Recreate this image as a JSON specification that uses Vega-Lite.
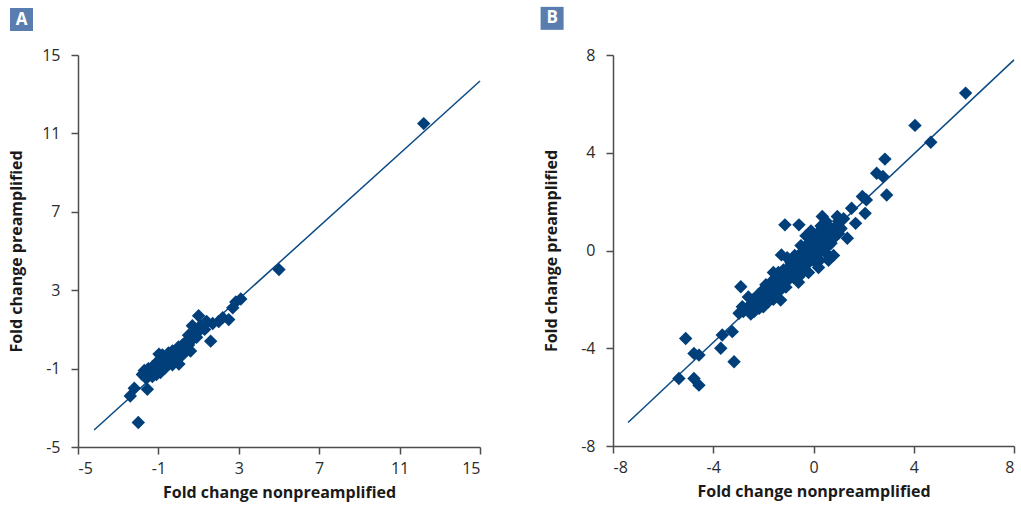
{
  "$schema": "https://vega.github.io/schema/vega-lite/v6.json",
  "background": "white",
  "padding": {"left": 8, "top": 6, "right": 0, "bottom": 8},
  "spacing": 57,
  "config": {
    "view": {"stroke": null},
    "font": "Open Sans",
    "axis": {
      "grid": false,
      "domainColor": "#4d4d4d",
      "domainWidth": 1.5,
      "tickColor": "#4d4d4d",
      "tickWidth": 1.5,
      "tickSize": 7,
      "labelFont": "Open Sans",
      "labelFontSize": 16,
      "labelColor": "#2b2b2b",
      "labelExpr": "replace(datum.label, '\u2212', '-')",
      "titleFont": "Open Sans",
      "titleFontSize": 16,
      "titleFontWeight": "bold",
      "titleColor": "#1a1a1a"
    },
    "axisY": {"minExtent": 40, "maxExtent": 40, "titlePadding": 14, "labelPadding": 11},
    "axisX": {"labelPadding": 6, "titlePadding": 8}
  },
  "datasets": {
    "a": [
      {"x": -2.0, "y": -3.75}, {"x": -2.2, "y": -2.0}, {"x": -2.4, "y": -2.4}, {"x": -1.55, "y": -2.05},
      {"x": -1.8, "y": -1.3}, {"x": -1.7, "y": -1.1}, {"x": -1.6, "y": -1.5}, {"x": -1.5, "y": -1.0},
      {"x": -1.4, "y": -1.3}, {"x": -1.3, "y": -0.9}, {"x": -1.3, "y": -1.4}, {"x": -1.2, "y": -1.1},
      {"x": -1.1, "y": -0.8}, {"x": -1.1, "y": -1.3}, {"x": -1.0, "y": -0.6}, {"x": -1.0, "y": -1.0},
      {"x": -0.9, "y": -1.2}, {"x": -0.8, "y": -0.7}, {"x": -0.8, "y": -0.3}, {"x": -0.7, "y": -1.0},
      {"x": -0.6, "y": -0.5}, {"x": -0.6, "y": -0.9}, {"x": -0.5, "y": -0.2}, {"x": -0.5, "y": -0.7},
      {"x": -0.4, "y": -0.4}, {"x": -0.3, "y": -0.8}, {"x": -0.3, "y": -0.1}, {"x": -0.2, "y": -0.5},
      {"x": -0.1, "y": -0.2}, {"x": 0.0, "y": -0.4}, {"x": 0.0, "y": 0.1}, {"x": 0.1, "y": -0.1},
      {"x": 0.2, "y": 0.2}, {"x": 0.2, "y": -0.3}, {"x": 0.3, "y": 0.0}, {"x": 0.4, "y": 0.4},
      {"x": 0.5, "y": 0.2}, {"x": 0.5, "y": 0.7}, {"x": 0.6, "y": -0.1}, {"x": 0.7, "y": 0.5},
      {"x": 0.8, "y": 0.9}, {"x": 0.9, "y": 0.6}, {"x": 1.0, "y": 1.7}, {"x": 1.0, "y": 0.9},
      {"x": 1.1, "y": 1.2}, {"x": 1.3, "y": 1.0}, {"x": 1.4, "y": 1.4}, {"x": 1.6, "y": 0.4},
      {"x": 1.7, "y": 1.3}, {"x": 2.0, "y": 1.4}, {"x": 2.2, "y": 1.6}, {"x": 2.5, "y": 1.5},
      {"x": 2.7, "y": 2.1}, {"x": 2.85, "y": 2.4}, {"x": 3.1, "y": 2.55}, {"x": -0.97, "y": -0.26},
      {"x": 0.02, "y": -0.77}, {"x": 0.36, "y": 0.0}, {"x": 0.69, "y": 1.19}, {"x": 1.35, "y": 1.36},
      {"x": 5.0, "y": 4.05}, {"x": 12.2, "y": 11.5}
    ],
    "aline": [{"x": -4.2, "y": -4.13}, {"x": 15, "y": 13.67}],
    "alabel": [{"x": -7.81, "y": 16.81, "label": "A"}],
    "b": [
      {"x": 6.07, "y": 6.44}, {"x": 4.05, "y": 5.12}, {"x": 4.68, "y": 4.43}, {"x": 2.85, "y": 3.74},
      {"x": 2.52, "y": 3.16}, {"x": 2.77, "y": 3.03}, {"x": 2.92, "y": 2.27}, {"x": 1.95, "y": 2.21},
      {"x": 2.11, "y": 2.07}, {"x": 2.06, "y": 1.52}, {"x": 1.52, "y": 1.73}, {"x": 1.68, "y": 1.11},
      {"x": 1.35, "y": 0.5}, {"x": -1.14, "y": 1.05}, {"x": -0.58, "y": 1.05}, {"x": 0.35, "y": 1.39},
      {"x": 0.95, "y": 1.39}, {"x": -1.28, "y": -0.18}, {"x": -2.9, "y": -1.48}, {"x": -2.84, "y": -2.3},
      {"x": -5.1, "y": -3.6}, {"x": -4.77, "y": -4.21}, {"x": -4.57, "y": -4.28}, {"x": -5.37, "y": -5.24},
      {"x": -4.77, "y": -5.24}, {"x": -4.57, "y": -5.51}, {"x": -3.7, "y": -4.0}, {"x": -3.17, "y": -4.55},
      {"x": -3.64, "y": -3.46}, {"x": -3.24, "y": -3.32}, {"x": -2.97, "y": -2.57}, {"x": -2.3, "y": -1.96},
      {"x": -2.37, "y": -2.5}, {"x": -1.31, "y": -2.03}, {"x": -0.58, "y": -1.07}, {"x": -2.44, "y": -2.16},
      {"x": -2.17, "y": -2.37}, {"x": -1.9, "y": -2.1},
      {"x": -2.6, "y": -2.3}, {"x": -2.5, "y": -2.6}, {"x": -2.4, "y": -2.0}, {"x": -2.3, "y": -2.4},
      {"x": -2.2, "y": -1.8}, {"x": -2.2, "y": -2.2}, {"x": -2.1, "y": -1.9}, {"x": -2.0, "y": -2.3},
      {"x": -2.0, "y": -1.6}, {"x": -1.9, "y": -1.9}, {"x": -1.9, "y": -1.4}, {"x": -1.8, "y": -2.1},
      {"x": -1.8, "y": -1.6}, {"x": -1.7, "y": -1.3}, {"x": -1.7, "y": -1.8}, {"x": -1.6, "y": -1.5},
      {"x": -1.6, "y": -2.0}, {"x": -1.5, "y": -1.2}, {"x": -1.5, "y": -1.7}, {"x": -1.4, "y": -1.4},
      {"x": -1.4, "y": -0.9}, {"x": -1.3, "y": -1.6}, {"x": -1.3, "y": -1.1}, {"x": -1.2, "y": -1.3},
      {"x": -1.2, "y": -0.8}, {"x": -1.1, "y": -1.0}, {"x": -1.1, "y": -1.5}, {"x": -1.0, "y": -0.7},
      {"x": -1.0, "y": -1.2}, {"x": -0.9, "y": -0.9}, {"x": -0.9, "y": -0.5}, {"x": -0.8, "y": -1.1},
      {"x": -0.8, "y": -0.7}, {"x": -0.7, "y": -0.4}, {"x": -0.7, "y": -0.9}, {"x": -0.6, "y": -0.6},
      {"x": -0.6, "y": -0.2}, {"x": -0.5, "y": -0.8}, {"x": -0.5, "y": -0.4}, {"x": -0.4, "y": -0.1},
      {"x": -0.4, "y": -0.6}, {"x": -0.3, "y": -0.3}, {"x": -0.3, "y": 0.1}, {"x": -0.2, "y": -0.5},
      {"x": -0.2, "y": 0.0}, {"x": -0.1, "y": -0.2}, {"x": -0.1, "y": 0.3}, {"x": 0.0, "y": 0.0},
      {"x": 0.0, "y": -0.4}, {"x": 0.0, "y": 0.4}, {"x": 0.1, "y": 0.1}, {"x": 0.1, "y": -0.3},
      {"x": 0.2, "y": 0.3}, {"x": 0.2, "y": -0.1}, {"x": 0.3, "y": 0.5}, {"x": 0.3, "y": 0.0},
      {"x": 0.4, "y": 0.2}, {"x": 0.4, "y": 0.7}, {"x": 0.5, "y": 0.4}, {"x": 0.5, "y": -0.1},
      {"x": 0.6, "y": 0.6}, {"x": 0.6, "y": 0.2}, {"x": 0.7, "y": 0.8}, {"x": 0.7, "y": 0.3},
      {"x": 0.8, "y": 0.5}, {"x": 0.9, "y": 1.0}, {"x": 1.0, "y": 0.7}, {"x": 1.0, "y": 1.2},
      {"x": 1.1, "y": 0.9}, {"x": 1.2, "y": 1.3}, {"x": 0.3, "y": 1.0}, {"x": -0.1, "y": 0.8},
      {"x": -0.3, "y": 0.6}, {"x": 0.5, "y": 1.2}, {"x": -0.5, "y": 0.2}, {"x": 0.8, "y": -0.2},
      {"x": 0.2, "y": -0.7}, {"x": -0.6, "y": -1.3}, {"x": 0.6, "y": -0.4}, {"x": -0.2, "y": -0.9},
      {"x": 0.15, "y": 0.7}, {"x": -0.15, "y": 0.5}, {"x": 0.45, "y": 0.9}, {"x": 0.25, "y": -0.4},
      {"x": -0.35, "y": -0.8}, {"x": 0.05, "y": 0.25}, {"x": -0.05, "y": -0.1}, {"x": 0.35, "y": 0.35},
      {"x": -0.25, "y": 0.25}, {"x": 0.65, "y": 0.95}, {"x": -0.75, "y": -0.2}, {"x": -1.05, "y": -0.3},
      {"x": -1.6, "y": -0.9}, {"x": -2.8, "y": -2.5}, {"x": -2.6, "y": -1.9}
    ],
    "bline": [{"x": -7.4, "y": -7.04}, {"x": 8, "y": 7.8}],
    "blabel": [{"x": -10.43, "y": 9.5, "label": "B"}]
  },
  "hconcat": [
    {
      "width": 402,
      "height": 392,
      "layer": [
        {
          "data": {"name": "aline"},
          "mark": {"type": "line", "color": "#0a4a85", "strokeWidth": 1.5},
          "encoding": {
            "x": {"field": "x", "type": "quantitative", "scale": {"domain": [-5, 15], "nice": false, "zero": false},
              "axis": {"values": [-5, -1, 3, 7, 11, 15], "title": "Fold change nonpreamplified"}},
            "y": {"field": "y", "type": "quantitative", "scale": {"domain": [-5, 15], "nice": false, "zero": false},
              "axis": {"values": [-5, -1, 3, 7, 11, 15], "title": "Fold change preamplified"}}
          }
        },
        {
          "data": {"name": "a"},
          "mark": {"type": "point", "shape": "diamond", "filled": true, "size": 180, "color": "#003f7a", "opacity": 1},
          "encoding": {
            "x": {"field": "x", "type": "quantitative"},
            "y": {"field": "y", "type": "quantitative"}
          }
        },
        {
          "data": {"name": "alabel"},
          "mark": {"type": "square", "size": 529, "color": "#5a7db0", "opacity": 1},
          "encoding": {"x": {"field": "x", "type": "quantitative"}, "y": {"field": "y", "type": "quantitative"}}
        },
        {
          "data": {"name": "alabel"},
          "mark": {"type": "text", "color": "white", "font": "Open Sans", "fontWeight": "bold", "fontSize": 17, "baseline": "middle", "align": "center", "dy": 0},
          "encoding": {"x": {"field": "x", "type": "quantitative"}, "y": {"field": "y", "type": "quantitative"}, "text": {"field": "label"}}
        }
      ]
    },
    {
      "width": 401,
      "height": 391,
      "layer": [
        {
          "data": {"name": "bline"},
          "mark": {"type": "line", "color": "#0a4a85", "strokeWidth": 1.5},
          "encoding": {
            "x": {"field": "x", "type": "quantitative", "scale": {"domain": [-8, 8], "nice": false, "zero": false},
              "axis": {"values": [-8, -4, 0, 4, 8], "title": "Fold change nonpreamplified"}},
            "y": {"field": "y", "type": "quantitative", "scale": {"domain": [-8, 8], "nice": false, "zero": false},
              "axis": {"values": [-8, -4, 0, 4, 8], "title": "Fold change preamplified"}}
          }
        },
        {
          "data": {"name": "b"},
          "mark": {"type": "point", "shape": "diamond", "filled": true, "size": 180, "color": "#003f7a", "opacity": 1},
          "encoding": {
            "x": {"field": "x", "type": "quantitative"},
            "y": {"field": "y", "type": "quantitative"}
          }
        },
        {
          "data": {"name": "blabel"},
          "mark": {"type": "square", "size": 529, "color": "#5a7db0", "opacity": 1},
          "encoding": {"x": {"field": "x", "type": "quantitative"}, "y": {"field": "y", "type": "quantitative"}}
        },
        {
          "data": {"name": "blabel"},
          "mark": {"type": "text", "color": "white", "font": "Open Sans", "fontWeight": "bold", "fontSize": 17, "baseline": "middle", "align": "center", "dy": 0},
          "encoding": {"x": {"field": "x", "type": "quantitative"}, "y": {"field": "y", "type": "quantitative"}, "text": {"field": "label"}}
        }
      ]
    }
  ]
}
